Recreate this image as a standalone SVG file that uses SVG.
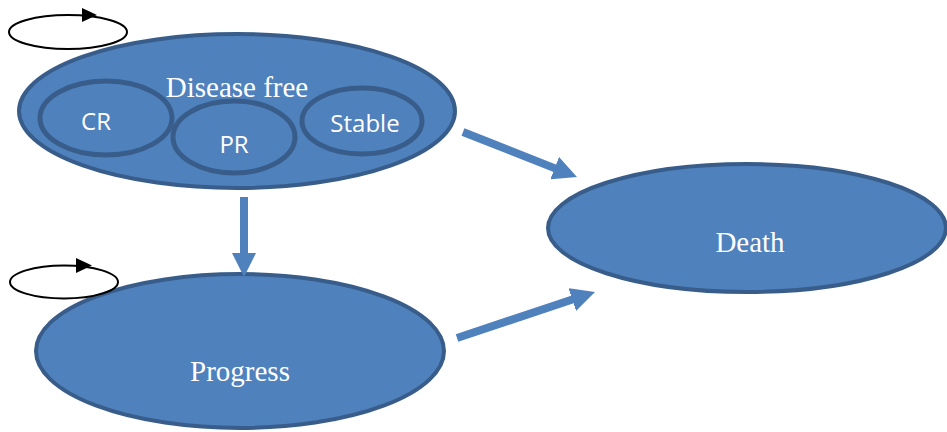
<svg xmlns="http://www.w3.org/2000/svg" width="947" height="432" viewBox="0 0 947 432">
<style>
.state{fill:#4f81bd;stroke:#385d8a;stroke-width:4}
.sub{fill:#4f81bd;stroke:#385d8a;stroke-width:5}
.serif{font-family:"Liberation Serif","Times New Roman",serif;font-size:29px;fill:#fff;text-anchor:middle}
.sans{font-family:"Open Sans","Liberation Sans",sans-serif;font-size:24px;fill:#fff;text-anchor:middle}
.edge{stroke:#4f81bd;stroke-width:8;fill:none;marker-end:url(#head)}
.loop{fill:none;stroke:#000;stroke-width:2}
</style>
<defs>
<marker id="head" viewBox="0 0 24 24" markerWidth="24" markerHeight="24" markerUnits="userSpaceOnUse" refX="12" refY="12" orient="auto">
<path d="M0,0 L24,12 L0,24 z" fill="#4f81bd"/>
</marker>
</defs>
<rect width="947" height="432" fill="#fff"/>
<g id="disease-free">
<ellipse class="state" cx="237" cy="111" rx="218" ry="77"/>
<g id="cr"><ellipse class="sub" cx="106" cy="118" rx="66" ry="37"/><text class="sans" x="96" y="130">CR</text></g>
<g id="pr"><ellipse class="sub" cx="234" cy="137" rx="61" ry="36"/><text class="sans" x="234" y="153">PR</text></g>
<g id="stable"><ellipse class="sub" cx="362" cy="121" rx="60" ry="33"/><text class="sans" x="365" y="132">Stable</text></g>
<text class="serif" x="237" y="97">Disease free</text>
</g>
<g id="progress">
<ellipse class="state" cx="240" cy="351" rx="204" ry="77"/>
<text class="serif" x="240" y="381">Progress</text>
</g>
<g id="death">
<ellipse class="state" cx="747" cy="228" rx="199" ry="64"/>
<text class="serif" x="750" y="252">Death</text>
</g>
<g id="connectors">
<line class="edge" x1="244" y1="197" x2="244" y2="265"/>
<line class="edge" x1="463" y1="132" x2="565.8" y2="172.6"/>
<line class="edge" x1="457" y1="338" x2="583.6" y2="295.8"/>
<g id="loop-disease-free">
<ellipse class="loop" cx="68" cy="32" rx="59" ry="17"/>
<path d="M82,8 L97,15 L82,22 z" fill="#000"/>
</g>
<g id="loop-progress">
<ellipse class="loop" cx="64" cy="282" rx="54" ry="16.5"/>
<path d="M76,258 L92,265.5 L76,273 z" fill="#000"/>
</g>
</g>
</svg>
